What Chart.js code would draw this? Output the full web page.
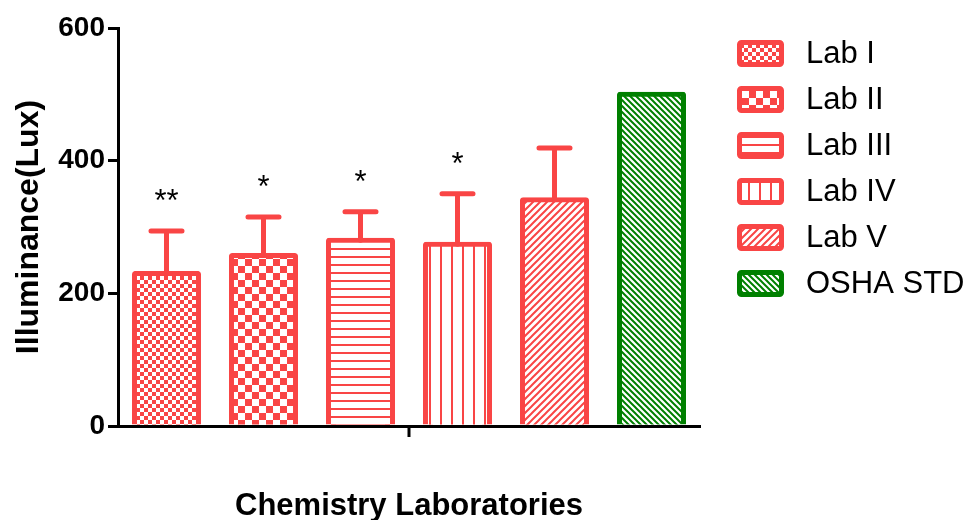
<!DOCTYPE html>
<html>
<head>
<meta charset="utf-8">
<script src="https://cdn.jsdelivr.net/npm/chart.js@4.4.0/dist/chart.umd.min.js"></script>
<style>
  html, body { margin: 0; padding: 0; background: #fff; }
</style>
</head>
<body>
<canvas id="chart" width="966" height="520"></canvas>
<script>
// data
var labs = ['Lab I', 'Lab II', 'Lab III', 'Lab IV', 'Lab V', 'OSHA STD'];
var meanLux = [230, 257, 280, 274, 341, 500];
var sdLux = [64, 58, 43, 76, 78, 0];
var signif = ['**', '*', '*', '*', '', ''];
var yTicks = [0, 200, 400, 600];

var RED = '#F94545', GREEN = '#008000';
var FONT = "'Liberation Sans', Arial, sans-serif";

// little pattern tiles
function tile(w, h, draw) {
  var c = document.createElement('canvas');
  c.width = w; c.height = h;
  var g = c.getContext('2d');
  g.fillStyle = '#fff';
  g.fillRect(0, 0, w, h);
  draw(g, w, h);
  return document.getElementById('chart').getContext('2d').createPattern(c, 'repeat');
}
function checker(cell, col) {
  return tile(cell * 2, cell * 2, function (g) {
    g.fillStyle = col;
    g.fillRect(0, 0, cell, cell);
    g.fillRect(cell, cell, cell, cell);
  });
}
function hLines(step, lw, col) {
  return tile(step, step, function (g) { g.fillStyle = col; g.fillRect(0, 0, step, lw); });
}
function vLines(step, lw, col) {
  return tile(step, step, function (g) { g.fillStyle = col; g.fillRect(0, 0, lw, step); });
}
function diag(p, lw, col, back) {
  return tile(p, p, function (g) {
    g.strokeStyle = col; g.lineWidth = lw;
    g.beginPath();
    if (back) {
      g.moveTo(-1, -1); g.lineTo(p + 1, p + 1);
      g.moveTo(-1, p - 1); g.lineTo(1, p + 1);
      g.moveTo(p - 1, -1); g.lineTo(p + 1, 1);
    } else {
      g.moveTo(-1, p + 1); g.lineTo(p + 1, -1);
      g.moveTo(-1, 1); g.lineTo(1, -1);
      g.moveTo(p - 1, p + 1); g.lineTo(p + 1, p - 1);
    }
    g.stroke();
  });
}

var fills = [
  checker(4, RED),
  checker(7, RED),
  hLines(8, 2, RED),
  vLines(11, 2, RED),
  diag(7, 2, RED, false),
  diag(6, 2, GREEN, true)
];
var edges = [RED, RED, RED, RED, RED, GREEN];

var errorBars = {
  id: 'errorBars',
  afterDatasetsDraw: function (chart) {
    var ctx = chart.ctx, y = chart.scales.y;
    var bars = chart.getDatasetMeta(0).data;
    ctx.save();
    ctx.lineWidth = 5;
    ctx.lineCap = 'round';
    bars.forEach(function (bar, i) {
      if (!sdLux[i]) return;
      var top = y.getPixelForValue(meanLux[i] + sdLux[i]);
      ctx.strokeStyle = edges[i];
      ctx.beginPath();
      ctx.moveTo(bar.x, y.getPixelForValue(meanLux[i]));
      ctx.lineTo(bar.x, top);
      ctx.moveTo(bar.x - 15.5, top);
      ctx.lineTo(bar.x + 15.5, top);
      ctx.stroke();
      if (signif[i]) {
        ctx.fillStyle = '#000';
        ctx.font = '31px ' + FONT;
        ctx.textAlign = 'center';
        ctx.textBaseline = 'alphabetic';
        ctx.fillText(signif[i], bar.x, top - 20);
      }
    });
    ctx.restore();
  }
};

var extras = {
  id: 'extras',
  afterDraw: function (chart) {
    var ctx = chart.ctx, a = chart.chartArea;
    ctx.save();
    // single centred tick under the x axis
    ctx.strokeStyle = '#000';
    ctx.lineWidth = 3;
    ctx.beginPath();
    ctx.moveTo((a.left + a.right) / 2, a.bottom);
    ctx.lineTo((a.left + a.right) / 2, a.bottom + 11);
    ctx.stroke();
    // legend
    labs.forEach(function (name, i) {
      var x = a.right + 37, yy = a.top + 12 + i * 46;
      ctx.beginPath();
      ctx.roundRect(x + 2.5, yy + 2.5, 42, 22, 2);
      ctx.fillStyle = fills[i];
      ctx.fill();
      ctx.lineWidth = 5;
      ctx.strokeStyle = edges[i];
      ctx.stroke();
      ctx.fillStyle = '#000';
      ctx.font = '31px ' + FONT;
      ctx.textAlign = 'left';
      ctx.textBaseline = 'middle';
      ctx.fillText(name, x + 69, yy + 14);
    });
    ctx.restore();
  }
};

new Chart(document.getElementById('chart'), {
  type: 'bar',
  data: {
    labels: labs,
    datasets: [{
      data: meanLux,
      backgroundColor: fills,
      borderColor: edges,
      borderWidth: 5,
      borderRadius: 3,
      inflateAmount: 2.5,
      barPercentage: 0.66,
      categoryPercentage: 1
    }]
  },
  options: {
    responsive: false,
    animation: false,
    devicePixelRatio: 1,
    layout: { padding: { left: 13, top: 28, right: 266, bottom: 0 } },
    plugins: { legend: { display: false }, tooltip: { enabled: false } },
    scales: {
      x: {
        z: 1,
        grid: { display: false },
        border: { color: '#000', width: 3 },
        ticks: { display: false },
        title: {
          display: true, text: 'Chemistry Laboratories', color: '#000',
          font: { family: FONT, size: 31, weight: 'bold', lineHeight: 1 },
          padding: { top: 0, bottom: -1.5 }
        },
        afterFit: function (s) { s.height = 94; }
      },
      y: {
        z: 1,
        min: 0, max: 600,
        afterBuildTicks: function (s) { s.ticks = yTicks.map(function (v) { return { value: v }; }); },
        grid: { drawOnChartArea: false, drawTicks: true, tickLength: 10, color: '#000', lineWidth: 3 },
        border: { color: '#000', width: 3 },
        ticks: { color: '#000', padding: 3, font: { family: FONT, size: 28, weight: 'bold' } },
        title: {
          display: true, text: 'Illuminance(Lux)', color: '#000',
          font: { family: FONT, size: 32, weight: 'bold', lineHeight: 1 },
          padding: 0
        },
        afterFit: function (s) { s.width = 105; }
      }
    }
  },
  plugins: [errorBars, extras]
});
</script>
</body>
</html>
